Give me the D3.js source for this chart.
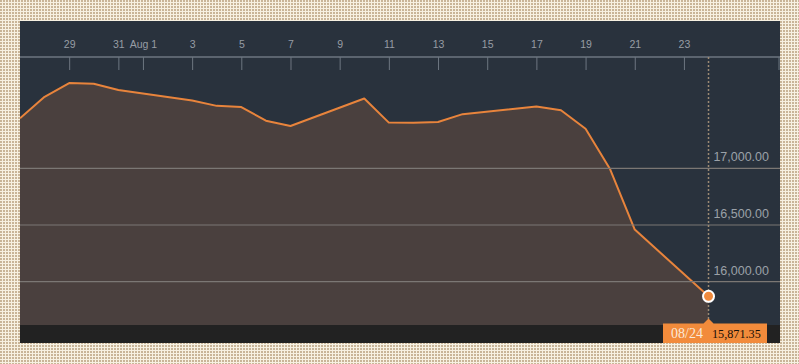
<!DOCTYPE html>
<html>
<head>
<meta charset="utf-8">
<script src="https://d3js.org/d3.v7.min.js"></script>
<style>
  body { margin: 0; }
  svg { display: block; }
</style>
</head>
<body>
<svg id="chart" width="799" height="364"></svg>
<script>
// Dow closes, 27 Jul - 24 Aug
const dates = ["2015-07-27","2015-07-28","2015-07-29","2015-07-30","2015-07-31",
  "2015-08-03","2015-08-04","2015-08-05","2015-08-06","2015-08-07",
  "2015-08-10","2015-08-11","2015-08-12","2015-08-13","2015-08-14",
  "2015-08-17","2015-08-18","2015-08-19","2015-08-20","2015-08-21","2015-08-24"];
const closes = [17440.59, 17630.27, 17751.39, 17745.98, 17689.86,
  17598.20, 17550.69, 17540.47, 17419.75, 17373.38,
  17615.17, 17402.84, 17402.51, 17408.25, 17477.40,
  17545.18, 17511.34, 17348.73, 16990.69, 16459.75, 15871.35];
const tickDates = ["2015-07-29","2015-07-31","2015-08-01","2015-08-03","2015-08-05",
  "2015-08-07","2015-08-09","2015-08-11","2015-08-13","2015-08-15",
  "2015-08-17","2015-08-19","2015-08-21","2015-08-23"];
const tickLabels = ["29","31","Aug 1","3","5","7","9","11","13","15","17","19","21","23"];
const yTicks = [16000, 16500, 17000];

const parse = d3.timeParse("%Y-%m-%d");
const data = dates.map((d, i) => ({ date: parse(d), value: closes[i] }));
const last = data[data.length - 1];

const svg = d3.select("#chart");
const panelL = 20, panelR = 780, panelT = 21, panelB = 343;
const axisY = 57, plotBottom = 325;

// background dots
const defs = svg.append("defs");
const pat = defs.append("pattern").attr("id", "dots")
  .attr("width", 3).attr("height", 3).attr("patternUnits", "userSpaceOnUse");
pat.append("rect").attr("width", 3).attr("height", 3).attr("fill", "#f7f1e2");
pat.append("rect").attr("width", 2).attr("height", 2).attr("fill", "#c9b598");
svg.append("rect").attr("width", 799).attr("height", 364).attr("fill", "url(#dots)");

defs.append("clipPath").attr("id", "clip")
  .append("rect").attr("x", panelL).attr("y", axisY).attr("width", panelR - panelL).attr("height", plotBottom - axisY);

svg.append("rect").attr("x", panelL).attr("y", panelT)
  .attr("width", panelR - panelL).attr("height", panelB - panelT).attr("fill", "#29323d");

const x = d3.scaleTime()
  .domain([parse("2015-07-27"), parse("2015-08-27")])
  .range([panelL, panelL + 31 * 24.59]);
const y = d3.scaleLinear().domain([16000, 17000]).range([281.7, 168.3]);

const g = svg.append("g").attr("clip-path", "url(#clip)");

g.append("path").datum(data)
  .attr("fill", "#4a403e")
  .attr("d", d3.area().x(d => x(d.date)).y0(plotBottom).y1(d => y(d.value)));

// gridlines + labels
yTicks.forEach(v => {
  svg.append("line")
    .attr("x1", panelL).attr("x2", panelR)
    .attr("y1", y(v)).attr("y2", y(v))
    .attr("stroke", "#7b7774").attr("stroke-width", 1.2);
  svg.append("text")
    .attr("x", 769).attr("y", y(v) - 7)
    .attr("text-anchor", "end")
    .attr("font-family", "Liberation Sans, Arial, sans-serif")
    .attr("font-size", 12.5)
    .attr("fill", "#9ba1a8")
    .text(d3.format(",.2f")(v));
});

g.append("path").datum(data)
  .attr("fill", "none")
  .attr("stroke", "#e8843c")
  .attr("stroke-width", 2)
  .attr("stroke-linejoin", "round")
  .attr("d", d3.line().x(d => x(d.date)).y(d => y(d.value)));

// top axis
const xAxis = d3.axisBottom(x)
  .tickValues(tickDates.map(parse))
  .tickFormat((d, i) => tickLabels[i])
  .tickSize(13)
  .tickSizeOuter(0);
const ax = svg.append("g").attr("transform", `translate(0,${axisY})`).call(xAxis);
ax.select(".domain").remove();
ax.append("line").attr("x1", panelL).attr("x2", panelR)
  .attr("stroke", "#6d7681").attr("stroke-width", 1.5);
ax.append("line").attr("x1", panelR - 1).attr("x2", panelR - 1).attr("y1", 0).attr("y2", 13)
  .attr("stroke", "#6d7681");
ax.selectAll(".tick line").attr("stroke", "#6d7681").attr("stroke-width", 1);
ax.selectAll(".tick text")
  .attr("y", -9).attr("dy", 0)
  .attr("font-family", "Liberation Sans, Arial, sans-serif")
  .attr("font-size", 10.5)
  .attr("fill", "#979da5");

// crosshair
const cx = x(last.date), cy = y(last.value);
svg.append("line")
  .attr("x1", cx).attr("x2", cx).attr("y1", axisY).attr("y2", 320)
  .attr("stroke", "#9c8a74").attr("stroke-width", 1.5)
  .attr("stroke-dasharray", "2,2");

svg.append("rect").attr("x", panelL).attr("y", plotBottom)
  .attr("width", panelR - panelL).attr("height", panelB - plotBottom).attr("fill", "#222222");

svg.append("circle").attr("cx", cx).attr("cy", cy).attr("r", 5.5)
  .attr("fill", "#f08a3c").attr("stroke", "#ffffff").attr("stroke-width", 2);

// value flag
const fx0 = 663, fx1 = 767, fy = 323.5;
svg.append("path")
  .attr("d", `M${fx0},${fy}H${cx - 5}L${cx},${fy - 5}L${cx + 5},${fy}H${fx1}V${panelB}H${fx0}Z`)
  .attr("fill", "#f28b3b");
svg.append("text").attr("x", 687).attr("y", 337.5)
  .attr("text-anchor", "middle")
  .attr("font-family", "Liberation Serif, serif").attr("font-size", 14)
  .attr("fill", "#fbe9d8")
  .text(d3.timeFormat("%m/%d")(last.date));
svg.append("text").attr("x", 712).attr("y", 337.5)
  .attr("font-family", "Liberation Serif, serif").attr("font-size", 12.2)
  .attr("fill", "#1a1008")
  .text(d3.format(",.2f")(last.value));
</script>
</body>
</html>
